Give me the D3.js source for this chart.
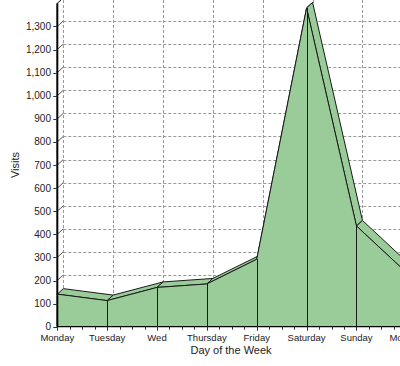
<!DOCTYPE html>
<html><head><meta charset="utf-8">
<script src="https://cdn.jsdelivr.net/npm/d3@7"></script>
<style>
html,body{margin:0;padding:0;background:#fff;overflow:hidden;}
text{font-family:"Liberation Sans",Arial,sans-serif;}
</style></head>
<body>
<svg id="c" width="400" height="366"></svg>
<script>
const categories = ["Monday","Tuesday","Wed","Thursday","Friday","Saturday","Sunday","Monday"];
const visits = [141, 113, 170, 185, 292, 1380, 436, 235];
const yTicks = [0,100,200,300,400,500,600,700,800,900,1000,1100,1200,1300];

const svg = d3.select("#c");
const W = 400;
const DX = 6, DY = -5.5;
const x = d3.scalePoint().domain(d3.range(categories.length)).range([57.3, 406.3]);
const y = d3.scaleLinear().domain([0, 1400]).range([326.7, 3.3]);
const fill = "#99cc99";

// back wall grid
const grid = svg.append("g").attr("stroke", "#999").attr("stroke-dasharray", "3,2").attr("stroke-width", 1);
yTicks.filter(v => v > 0).forEach(v => {
  grid.append("line").attr("x1", x(0) + DX).attr("x2", W + 20)
    .attr("y1", Math.round(y(v) + DY) + 0.5).attr("y2", Math.round(y(v) + DY) + 0.5);
});
d3.range(categories.length).forEach(i => {
  const xx = Math.round(x(i) + DX) + 0.5;
  grid.append("line").attr("x1", xx).attr("x2", xx).attr("y1", 0).attr("y2", y(0) + DY);
});

// side wall diagonals
const side = svg.append("g").attr("stroke", "#555").attr("stroke-width", 1);
yTicks.forEach(v => {
  side.append("line").attr("x1", x(0)).attr("y1", y(v)).attr("x2", x(0) + DX).attr("y2", y(v) + DY);
});

// top faces (segments)
const tops = svg.append("g");
for (let i = 0; i < visits.length - 1; i++) {
  const x0 = x(i), x1 = x(i + 1), y0 = y(visits[i]), y1 = y(visits[i + 1]);
  tops.append("path")
    .attr("d", `M${x0},${y0}L${x1},${y1}L${x1 + DX},${y1 + DY}L${x0 + DX},${y0 + DY}Z`)
    .attr("fill", fill).attr("stroke", "#1a1a1a").attr("stroke-width", 1).attr("stroke-linejoin", "round");
}

// front face
const area = d3.area().x((d, i) => x(i)).y0(y(0)).y1(d => y(d));
svg.append("path").datum(visits).attr("d", area).attr("fill", fill).attr("stroke", "none");
const line = d3.line().x((d, i) => x(i)).y(d => y(d));
svg.append("path").datum(visits).attr("d", line).attr("fill", "none").attr("stroke", "#1a1a1a").attr("stroke-width", 1);
svg.append("g").selectAll("line").data(visits).join("line")
  .attr("x1", (d, i) => Math.round(x(i)) + 0.5).attr("x2", (d, i) => Math.round(x(i)) + 0.5)
  .attr("y1", d => y(d)).attr("y2", y(0))
  .attr("stroke", "#1a1a1a").attr("stroke-width", 1);

// x axis line and ticks
const xa = svg.append("g");
xa.append("line").attr("x1", x(0)).attr("x2", W + 20).attr("y1", y(0)).attr("y2", y(0)).attr("stroke", "#000").attr("stroke-width", 1.2);
const step = x.step();
for (let i = 0; i < categories.length; i++) {
  for (let q = 0; q < 4; q++) {
    const xx = Math.round(x(i) + q * step / 4) + 0.5;
    xa.append("line").attr("x1", xx).attr("x2", xx).attr("y1", y(0)).attr("y2", y(0) + (q === 0 ? 4 : 3)).attr("stroke", "#333");
  }
}
xa.selectAll("text").data(categories).join("text")
  .attr("x", (d, i) => x(i)).attr("y", 341).attr("text-anchor", "middle")
  .attr("font-size", 9.5).attr("fill", "#222").text(d => d);

// y axis
const ya = svg.append("g");
ya.append("line").attr("x1", x(0)).attr("x2", x(0)).attr("y1", y(0)).attr("y2", y(1400)).attr("stroke", "#000").attr("stroke-width", 2);
ya.append("line").attr("x1", x(0)).attr("y1", y(1400)).attr("x2", x(0) + DX).attr("y2", y(1400) + DY).attr("stroke", "#000").attr("stroke-width", 1);
ya.selectAll("line.t").data(yTicks).join("line").attr("class", "t")
  .attr("x1", x(0) - 4).attr("x2", x(0)).attr("y1", d => Math.round(y(d)) + 0.5).attr("y2", d => Math.round(y(d)) + 0.5)
  .attr("stroke", "#333");
ya.selectAll("text").data(yTicks).join("text")
  .attr("x", 51).attr("y", d => y(d) + 3.5).attr("text-anchor", "end")
  .attr("font-size", 10).attr("fill", "#222").text(d => d3.format(",")(d));

// titles
svg.append("text").attr("x", 231).attr("y", 354).attr("text-anchor", "middle").attr("font-size", 11).attr("fill", "#222").text("Day of the Week");
svg.append("text").attr("transform", "translate(19,165) rotate(-90)").attr("text-anchor", "middle").attr("font-size", 11).attr("fill", "#222").text("Visits");
</script>
</body></html>
